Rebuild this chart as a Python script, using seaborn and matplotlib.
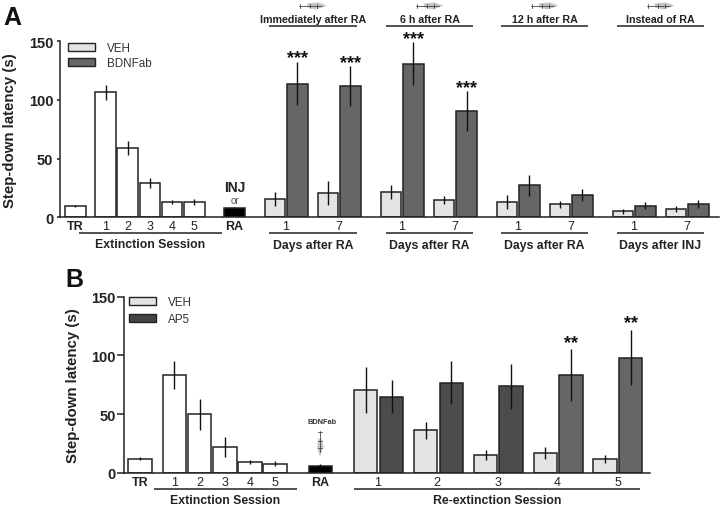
import numpy as np
import pandas as pd
import matplotlib.pyplot as plt
from matplotlib.patches import Patch, Polygon
import seaborn as sns

# ── Data: panel A ──────────────────────────────────────
a_labels = ['TR', 'E1', 'E2', 'E3', 'E4', 'E5', 'RA',
            'I1v', 'I1b', 'I7v', 'I7b', 'S1v', 'S1b', 'S7v', 'S7b',
            'T1v', 'T1b', 'T7v', 'T7b', 'N1v', 'N1b', 'N7v', 'N7b']
a_groups = ['blank'] * 6 + ['RA'] + ['VEH', 'BDNFab'] * 8
a_values = [9.9, 106.5, 58.8, 29.3, 13, 12.8, 8.2,
            15.3, 114, 20.7, 112, 21.9, 131, 14.8, 90.6,
            12.8, 27.3, 11, 19, 5, 10, 6.8, 11.4]
a_errors = [1, 6.5, 6, 4.5, 1.8, 2.4, 1,
            6, 18.6, 10, 16.8, 6, 18.3, 3.3, 17,
            5.8, 9, 3.1, 5.1, 2, 3, 2.7, 3.7]
a_stars = {'I1b': '***', 'I7b': '***', 'S1b': '***', 'S7b': '***'}

# ── Data: panel B ──────────────────────────────────────
b_labels = ['TR', 'E1', 'E2', 'E3', 'E4', 'E5', 'RA',
            'R1v', 'R1a', 'R2v', 'R2a', 'R3v', 'R3a', 'R4v', 'R4a', 'R5v', 'R5a']
b_groups = ['blank'] * 6 + ['RA'] + ['VEH', 'AP5'] * 3 + ['VEH', 'AP5 late'] * 2
b_values = [11.9, 83, 49.7, 21.9, 9.1, 7.7, 6,
            70.5, 64.8, 36, 76.7, 15, 73.6, 16.8, 83.2, 11.4, 98]
b_errors = [1.5, 11.8, 13, 8.4, 2.1, 2, 1,
            19.3, 13.8, 7, 18.2, 4.3, 19, 5, 21.9, 3.3, 23.5]
b_stars = {'R4a': '**', 'R5a': '**'}

y_ticks = [0, 50, 100, 150]

# ── Layout (figure pixels) ─────────────────────────────
a_x = [75.3, 105.7, 127.7, 150, 172, 194.3, 234.3,
       275, 297.3, 328, 350.3, 391, 413.3, 444, 466.7,
       507, 529.3, 560, 582.3, 623, 645.3, 676, 698.3]
a_tick_x = [75.3, 105.7, 127.7, 150, 172, 194.3, 234.3,
            286, 339, 402, 454.5, 518, 571, 634, 687]
a_tick_labels = ['TR', '1', '2', '3', '4', '5', 'RA'] + ['1', '7'] * 4
b_x = [140, 174.3, 199.7, 225, 250, 275, 320.3,
       365.7, 391.7, 425.7, 451.3, 485.7, 511, 545.3, 571, 605, 630.7]
b_tick_x = [140, 174.3, 199.7, 225, 250, 275, 320.3, 378, 437, 498, 557, 617.7]
b_tick_labels = ['TR', '1', '2', '3', '4', '5', 'RA', '1', '2', '3', '4', '5']

palette = {'blank': 'white', 'RA': 'black', 'VEH': '#e4e4e4',
           'BDNFab': '#666666', 'AP5': '#4c4c4c', 'AP5 late': '#666666'}
EDGE = '#222222'
W, H = 720, 506

sns.set_theme(style='ticks')
plt.rcParams['font.family'] = ['Liberation Sans', 'DejaVu Sans']

fig = plt.figure(figsize=(W / 100, H / 100), dpi=100, facecolor='white')


def px_axes(left, right, top, bottom):
    return fig.add_axes([left / W, 1 - bottom / H, (right - left) / W, (bottom - top) / H])


def draw_panel(ax, x, labels, groups, values, errors, stars, bar_px,
               tick_x, tick_labels, tick_len, y_pad, x_pad, star_off, xlim):
    df = pd.DataFrame({'x': x, 'label': labels, 'group': groups,
                       'value': values, 'err': errors})
    step = np.diff(np.unique(df['x'])).min()
    sns.barplot(data=df, x='x', y='value', hue='group', palette=palette, dodge=False,
                native_scale=True, width=bar_px / step, saturation=1, errorbar=None,
                edgecolor=EDGE, linewidth=1.1, legend=False, ax=ax)
    ax.errorbar(df['x'], df['value'], yerr=df['err'], fmt='none',
                ecolor='#111111', elinewidth=1.0, capsize=0, zorder=5)
    for _, row in df[df['label'].isin(stars)].iterrows():
        ax.annotate(stars[row['label']], (row['x'], row['value'] + row['err']),
                    xytext=(0, star_off), textcoords='offset points', ha='center', va='bottom',
                    fontsize=13, fontweight='bold', color='#111111')
    ax.set_xlim(*xlim)
    ax.set_ylim(0, 150)
    ax.set_yticks(y_ticks)
    ax.set_xticks(tick_x)
    ax.set_xticklabels(tick_labels)
    for lab in ax.get_xticklabels():
        if lab.get_text() in ('TR', 'RA'):
            lab.set_fontweight('bold')
    ax.tick_params(axis='x', length=0, labelsize=9, pad=x_pad, colors='#222222')
    ax.tick_params(axis='y', length=tick_len, width=1.1, labelsize=10.5, pad=y_pad, colors='#222222')
    for lab in ax.get_yticklabels():
        lab.set_fontweight('bold')
    ax.set_xlabel('')
    ax.set_ylabel('Step-down latency (s)', fontsize=10.8, fontweight='bold', color='#222222')
    sns.despine(ax=ax)
    ax.spines['left'].set_linewidth(1.1)
    ax.spines['bottom'].set_linewidth(1.1)
    ax.spines['left'].set_color('#222222')
    ax.spines['bottom'].set_color('#222222')
    ax.patch.set_alpha(0)


# ── Panel A ────────────────────────────────────────────
ax_a = px_axes(59.5, 719, 42.3, 218.3)
draw_panel(ax_a, a_x, a_labels, a_groups, a_values, a_errors, a_stars, 20.7,
           a_tick_x, a_tick_labels, 2.5, 2, 2, -3.5, (59.5, 719))
ax_a.yaxis.set_label_coords(-0.0645, 0.5)

# ── Panel B ────────────────────────────────────────────
ax_b = px_axes(123.7, 650, 297.7, 473.7)
draw_panel(ax_b, b_x, b_labels, b_groups, b_values, b_errors, b_stars, 23.3,
           b_tick_x, b_tick_labels, 4.8, 1, 2.6, -1, (123.7, 650))
ax_b.yaxis.set_label_coords(-0.0835, 0.5)

# ── Overlay for labels, brackets, syringes ─────────────
ov = fig.add_axes([0, 0, 1, 1], facecolor='none')
ov.set_xlim(0, W)
ov.set_ylim(H, 0)
ov.axis('off')


def bracket(x0, x1, y, text, text_y, size=8.8):
    ov.plot([x0, x1], [y, y], color='#222222', lw=1.1, solid_capstyle='butt')
    ov.text((x0 + x1) / 2, text_y, text, ha='center', va='center',
            fontsize=size, fontweight='bold', color='#222222')


def syringe(cx, cy, vertical=False, scale=1.0):
    # small grey syringe sketch, as in the original figure
    def pt(dx, dy):
        dx, dy = dx * scale, dy * scale
        return (cx + dy, cy + dx) if vertical else (cx + dx, cy + dy)
    ov.add_patch(Polygon([pt(-6, -2), pt(5, -3), pt(14, 0), pt(3, 4), pt(-5, 2)],
                         closed=True, fc='#c4c4c4', ec='none'))
    ov.plot(*zip(pt(-14, 0), pt(9, 0)), color='#444444', lw=0.6)
    ov.plot(*zip(pt(-13, -2), pt(-13, 2)), color='#444444', lw=0.6)
    ov.plot(*zip(pt(-3, -2), pt(-3, 2)), color='#444444', lw=0.6)
    ov.plot(*zip(pt(4, -2), pt(4, 2)), color='#444444', lw=0.6)


a_spans = [(269, 357), (386, 473), (501, 588), (617, 704)]
a_heads = ['Immediately after RA', '6 h after RA', '12 h after RA', 'Instead of RA']
a_foots = ['Days after RA', 'Days after RA', 'Days after RA', 'Days after INJ']
for (x0, x1), head, foot in zip(a_spans, a_heads, a_foots):
    bracket(x0, x1, 26.7, head, 19.5, size=7.7)
    bracket(x0, x1, 234.3, foot, 245.5)
    syringe((x0 + x1) / 2, 6.5)
bracket(79, 222, 234.3, 'Extinction Session', 245.5)

ov.text(234.5, 188, 'INJ', ha='center', va='center', fontsize=10, fontweight='bold', color='#222222')
ov.text(234.5, 201, 'or', ha='center', va='center', fontsize=7, color='#555555')

bracket(154, 297, 490, 'Extinction Session', 501)
bracket(354, 640, 490, 'Re-extinction Session', 501)
ov.text(322, 422.5, 'BDNFab', ha='center', va='center', fontsize=5.3, fontweight='bold', color='#333333')
syringe(320, 445, vertical=True, scale=0.9)

ov.text(3, 18, 'A', ha='left', va='center', fontsize=18, fontweight='bold', color='#111111')
ov.text(65, 280, 'B', ha='left', va='center', fontsize=18, fontweight='bold', color='#111111')


def legend_box(names, colors, x, y, pitch):
    handles = [Patch(facecolor=c, edgecolor=EDGE, linewidth=1.0) for c in colors]
    ov.legend(handles, names, loc='upper left', bbox_to_anchor=(x / W, 1 - y / H),
              bbox_transform=fig.transFigure, frameon=False, fontsize=8.4, borderpad=0,
              borderaxespad=0, handlelength=2.3, handleheight=0.69, handletextpad=1.0,
              labelspacing=pitch, labelcolor='#333333')


legend_box(['VEH', 'BDNFab'], ['#e4e4e4', '#666666'], 68, 43.5, 0.2)
ov_leg_a = ov.get_legend()
ov.add_artist(ov_leg_a)
legend_box(['VEH', 'AP5'], ['#e4e4e4', '#444444'], 129, 297.5, 0.41)

fig.savefig('out.png', dpi=100)
